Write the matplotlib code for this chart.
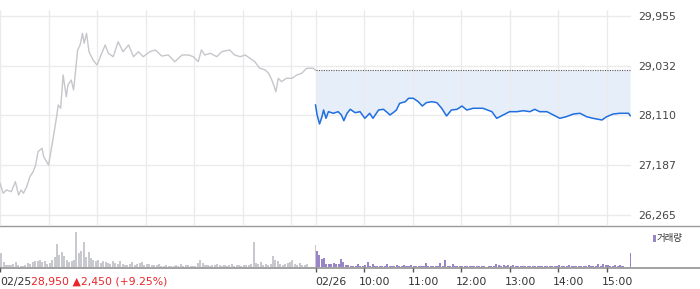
"""Two-day intraday price chart (02/25 - 02/26) with volume panel."""

import matplotlib
matplotlib.use("Agg")
import matplotlib.pyplot as plt
from matplotlib.lines import Line2D
from matplotlib.patches import Rectangle

plt.rcParams["font.family"] = ["DejaVu Sans", "Noto Sans CJK KR"]

# --- data (minutes from 02/25 09:00, two sessions of 390 min) ---
day1_min = [0, 4, 8, 14, 19, 23, 26, 29, 33, 37, 41, 44, 47, 52, 54, 60, 66, 70, 72, 75,
            78, 82, 84, 88, 91, 96, 99, 102, 104, 107, 110, 115, 120, 124, 130, 134, 140, 146, 152, 159,
            165, 171, 177, 185, 192, 200, 208, 216, 225, 233, 239, 245, 249, 253, 260, 268, 274, 284, 290, 297,
            303, 309, 315, 321, 328, 332, 336, 339, 341, 344, 348, 354, 361, 367, 373, 379, 387, 390]
day1_price = [26853, 26668, 26729, 26697, 26883, 26636, 26729, 26668, 26790, 26976,
              27068, 27192, 27439, 27502, 27346, 27192, 27717, 28088, 28305, 28244,
              28861, 28459, 28676, 28768, 28583, 29325, 29417, 29634, 29449, 29634,
              29293, 29139, 29046, 29200, 29417, 29263, 29200, 29478, 29293, 29417,
              29200, 29293, 29200, 29293, 29325, 29213, 29232, 29108, 29232, 29232,
              29200, 29108, 29325, 29232, 29263, 29200, 29293, 29325, 29232, 29200,
              29232, 29171, 29108, 28985, 28954, 28893, 28768, 28644, 28551, 28800,
              28737, 28800, 28800, 28861, 28893, 28985, 28985, 28950]

day2_min = [390, 392, 395, 398, 400, 403, 406, 412, 418, 422, 425, 429, 433, 439, 445, 451, 457, 461, 468, 474,
            479, 482, 486, 490, 494, 501, 505, 511, 517, 522, 527, 534, 540, 546, 552, 558, 565, 571, 577, 585,
            597, 608, 614, 622, 630, 639, 647, 655, 661, 667, 676, 684, 692, 700, 709, 717, 725, 733, 744, 750,
            758, 766, 777, 779]
day2_price = [28305, 28120, 27953, 28088, 28212, 28058, 28181, 28151, 28181, 28120,
              28014, 28151, 28225, 28162, 28181, 28058, 28151, 28058, 28212, 28225,
              28162, 28120, 28162, 28212, 28336, 28366, 28429, 28429, 28366, 28286,
              28348, 28366, 28348, 28244, 28101, 28212, 28225, 28286, 28212, 28244,
              28244, 28181, 28058, 28120, 28181, 28181, 28199, 28181, 28225, 28181,
              28181, 28120, 28058, 28088, 28138, 28151, 28088, 28058, 28027, 28088,
              28138, 28151, 28151, 28107]

prev_close = 28950
price_ticks = [26265, 27187, 28110, 29032, 29955]

# volume, 3-minute bins per session (k shares)
day1_vol = [15, 5, 2, 2, 2.5, 3, 5, 2, 1.5, 1,
            2, 4, 3, 5, 6, 6, 7, 5, 6, 3,
            4, 7, 10, 24, 13, 16, 11, 7, 5, 6,
            7, 36, 15, 17, 26, 10, 16, 9, 7, 6,
            7, 4, 6, 5, 4, 3, 6, 4, 3, 6,
            3, 2, 2, 3, 5, 2, 3, 4, 5, 2,
            3, 3, 2, 2, 2, 3, 1.5, 1.5, 2, 1.5,
            1.5, 1, 2, 1.5, 3, 1.5, 2, 2, 1.5, 1,
            1, 4, 7, 4, 2, 2, 1.5, 2, 2, 3,
            2, 1.5, 2, 1.5, 2, 3, 1.5, 2, 2, 1.5,
            2, 2, 2, 3, 26, 4, 3, 5, 2, 3,
            2, 3, 11, 7, 6, 3, 2, 3, 4, 5,
            7, 3, 2, 4, 2, 2, 3, 0, 0, 0]
day2_vol = [17, 13, 8, 9, 3, 3, 3, 4, 3, 3,
            8, 5, 2, 2, 1, 1, 1, 3, 1, 1,
            2, 5, 1, 3, 1.5, 1, 1.5, 1, 1.5, 3,
            1.5, 1.5, 1, 2, 1.5, 1, 2, 1, 1, 2,
            1, 1.5, 1, 1, 1, 4, 1, 1, 1, 1.5,
            1, 4, 1, 7, 1.5, 1, 3, 1.5, 1, 1,
            1, 1, 1, 1, 1, 1, 1, 1, 1, 1,
            0.5, 1, 1, 1.5, 3, 2, 1, 2.5, 1, 2,
            1, 2, 1, 1.5, 1.5, 1.5, 1.5, 1.5, 1.5, 1,
            1, 1.5, 1, 1, 1.5, 1.5, 1.5, 1.5, 1.5, 1.5,
            2, 1.5, 1.5, 1.5, 2, 1, 1, 1, 1, 1.5,
            1, 1.5, 2, 1.5, 1.5, 1.5, 3, 1.5, 3, 2,
            2, 1.5, 1.5, 2, 1.5, 2, 1.5, 0, 0, 0]
day1_close_auction = 23
day2_close_auction = 15

hour_ticks = [450, 510, 570, 630, 690, 750]
hour_labels = ["10:00", "11:00", "12:00", "13:00", "14:00", "15:00"]
grid_x = [0, 60, 120, 180, 240, 300, 360, 390] + hour_ticks

GRAY_LINE = "#c6c6cc"
BLUE = "#1f6fe0"
FILL = "#e6eef9"
VOL_GRAY = "#c8c9ce"
PURPLE = "#9a85c6"
GRID = "#ebebeb"

W, H = 700, 289
fig = plt.figure(figsize=(W / 100, H / 100), dpi=100)


def fy(px):
    return 1 - px / H


plot_w = 631 / W
ax = fig.add_axes([0, fy(225), plot_w, (225 - 10) / H])
per_px = (price_ticks[-1] - price_ticks[0]) / (215 - 16)
ax.set_ylim(price_ticks[0] - 10 * per_px, price_ticks[-1] + 6 * per_px)
ax.set_xlim(0, 780)

ax.set_yticks(price_ticks)
ax.set_yticklabels([f"{v:,}" for v in price_ticks])
ax.set_xticks(grid_x)
ax.set_xticklabels([])
ax.yaxis.tick_right()
ax.tick_params(axis="y", length=0, pad=5, labelsize=7.8, labelcolor="#444444")
ax.tick_params(axis="x", length=0)
ax.grid(True, color=GRID, lw=1)
for s in ax.spines.values():
    s.set_visible(False)

ax.plot(day1_min, day1_price, color=GRAY_LINE, lw=1)
ax.fill_between(day2_min, day2_price, prev_close, color=FILL, lw=0)
ax.hlines(prev_close, 390, 780, colors="#555555", linestyles=(0, (1, 1.2)), lw=0.8)
ax.plot(day2_min, day2_price, color=BLUE, lw=1.1)

# --- volume panel (bars start just above the baseline rule) ---
axv = fig.add_axes([0, fy(267.2), plot_w, (267.2 - 225) / H])
axv.set_xlim(0, 780)
axv.set_ylim(0, max(day1_vol) * 1.2)
x1 = [3 * i + 1.5 for i in range(len(day1_vol))]
x2 = [390 + 3 * i + 1.5 for i in range(len(day2_vol))]
axv.bar(x1, day1_vol, width=2.5, color=VOL_GRAY, lw=0)
axv.bar([389.4], [day1_close_auction], width=1.2, color=VOL_GRAY, lw=0)
axv.bar(x2, day2_vol, width=2.5, color=PURPLE, lw=0)
axv.bar([779.4], [day2_close_auction], width=1.2, color=PURPLE, lw=0)
for s in axv.spines.values():
    s.set_visible(False)
axv.set_yticks([])
axv.set_xticks([0, 390] + hour_ticks)
axv.set_xticklabels([])
axv.tick_params(axis="x", length=3.5, width=1, color="#555555", direction="out")

fig.add_artist(Line2D([0, 1], [fy(225.5), fy(225.5)], color="#9a9a9a", lw=1))
fig.add_artist(Line2D([0, 1], [fy(268), fy(268)], color="#888888", lw=1.1))

lab_kw = dict(xycoords=("data", "axes fraction"), textcoords="offset points",
              va="center", ha="left", fontsize=7.8, color="#333333")
d1 = axv.annotate("02/25", xy=(0, 0), xytext=(0, -10.5), **lab_kw)
axv.annotate("28,950 ▲2,450 (+9.25%)", xy=(1, 0.5), xycoords=d1, va="center",
             ha="left", fontsize=7.8, color="#e8262b")
axv.annotate("02/26", xy=(390, 0), xytext=(0, -10.5), **lab_kw)
for t, lab in zip(hour_ticks, hour_labels):
    axv.annotate(lab, xy=(t, 0), xytext=(-3.6, -10.5), **lab_kw)

# legend
fig.add_artist(Rectangle((652.7 / W, fy(241.7)), 3 / W, 7 / H, transform=fig.transFigure,
                         color=PURPLE, lw=0))
fig.text(657 / W, fy(238), "거래량", ha="left", va="center", fontsize=6.8,
         color="#333333", family=["Noto Sans CJK KR", "DejaVu Sans"])

fig.savefig("out.png", dpi=100)
